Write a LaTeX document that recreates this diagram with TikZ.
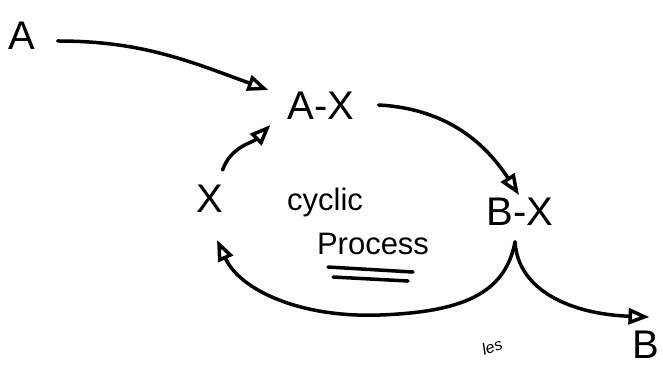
\documentclass[tikz,border=0pt]{standalone}
\usepackage{fontspec}
\setmainfont{Liberation Sans}
\usetikzlibrary{arrows.meta}

\begin{document}
\begin{tikzpicture}[
    x=1pt, y=1pt,
    species/.style={inner sep=0pt, font=\fontsize{40}{48}\selectfont},
    note/.style={inner sep=0pt, font=\fontsize{31}{36}\selectfont},
    flow/.style={line width=3.5pt, line cap=round, -{Triangle[open, length=21pt, width=16pt]}},
    stroke/.style={line width=3.5pt, line cap=round}
]
\useasboundingbox (0,0) rectangle (663,366);

\node[species] (A) at (22, 330) {A};
\node[species] (AX) at (321, 260) {A-X};
\node[species] (BX) at (520, 154) {B-X};
\node[species] (X) at (210, 167) {X};
\node[species] (B) at (646, 21) {B};
\node[note] (cyclic) at (325, 164) {cyclic};
\node[note] (process) at (373, 122) {Process};
\node[inner sep=0pt, font=\fontsize{16}{18}\selectfont\itshape, rotate=20] (les) at (492, 19) {les};

\draw[stroke] ([shift={(-45pt,-12pt)}]process.south) -- ([shift={(40pt,-17pt)}]process.south);
\draw[stroke] ([shift={(-40pt,-22pt)}]process.south) -- ([shift={(35pt,-26pt)}]process.south);

\coordinate (cusp) at ([shift={(-5pt,-16pt)}]BX.south);

\draw[flow] ([shift={(22pt,-5pt)}]A.east) to[out=0, in=160] ([shift={(-19pt,2pt)}]AX.north west);
\draw[flow] ([shift={(-1pt,15pt)}]X.north east) to[out=70, in=225] ([shift={(-17pt,-5pt)}]AX.south west);
\draw[flow] ([shift={(24pt,1pt)}]AX.east) to[out=-3, in=123] ([shift={(-1pt,3pt)}]BX.north);
\draw[flow] (cusp) .. controls (505,71) and (460,54) .. (380,51)
    .. controls (300,48) and (240,76) .. ([shift={(7pt,-27pt)}]X.south);
\draw[flow] (cusp) .. controls (518,76) and (570,52) .. ([shift={(17pt,14pt)}]B.north west);
\end{tikzpicture}
\end{document}
